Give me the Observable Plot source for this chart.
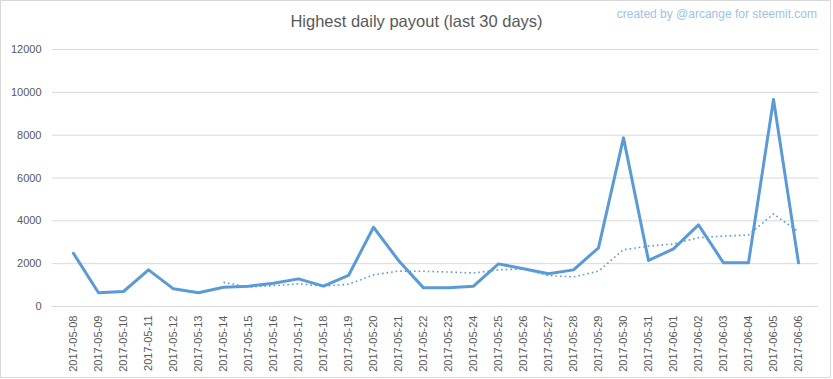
<!DOCTYPE html>
<html>
<head>
<meta charset="utf-8">
<script src="https://cdn.jsdelivr.net/npm/d3@7"></script>
<script src="https://cdn.jsdelivr.net/npm/@observablehq/plot@0.6"></script>
<style>
  html, body { margin: 0; padding: 0; background: #fff; }
  #wrap { position: relative; width: 833px; height: 379px; }
  #frame { position: absolute; left: 0; top: 0; width: 831px; height: 378px; box-sizing: border-box; border: 1px solid #d9d9d9; pointer-events: none; }
  #title { position: absolute; left: 0; width: 833px; top: 12px; text-align: center; font-family: "Liberation Sans", sans-serif; font-size: 16.5px; color: #595959; }
  #credit { position: absolute; right: 16px; top: 7px; font-family: "Liberation Sans", sans-serif; font-size: 12px; color: #9dc3e6; }
  #chart { position: absolute; left: 0; top: 0; }
</style>
</head>
<body>
<div id="wrap">
  <div id="chart"></div>
  <div id="title">Highest daily payout (last 30 days)</div>
  <div id="credit">created by @arcange for steemit.com</div>
  <div id="frame"></div>
</div>
<script>
const dates = ["2017-05-08","2017-05-09","2017-05-10","2017-05-11","2017-05-12","2017-05-13","2017-05-14","2017-05-15","2017-05-16","2017-05-17","2017-05-18","2017-05-19","2017-05-20","2017-05-21","2017-05-22","2017-05-23","2017-05-24","2017-05-25","2017-05-26","2017-05-27","2017-05-28","2017-05-29","2017-05-30","2017-05-31","2017-06-01","2017-06-02","2017-06-03","2017-06-04","2017-06-05","2017-06-06"];
const payout = [2480,640,700,1710,825,640,900,950,1090,1290,950,1450,3700,2150,870,870,950,1990,1760,1525,1710,2740,7875,2150,2690,3810,2040,2040,9665,2040];
// 7-day moving average trendline (dotted), starts at 2017-05-14
const trend = [null,null,null,null,null,null,1128,909,974,1058,949,1039,1476,1654,1643,1611,1563,1711,1756,1445,1382,1649,2650,2821,2921,3214,3288,3335,4324,3491];
const yTicks = [0,2000,4000,6000,8000,10000,12000];

const rows = dates.map((d, i) => ({date: d, payout: payout[i], trend: trend[i]}));

const chart = Plot.plot({
  width: 833,
  height: 379,
  marginTop: 49,
  marginBottom: 73,
  marginLeft: 52,
  marginRight: 15,
  style: {fontFamily: "Liberation Sans, sans-serif", fontSize: "11px", color: "#595959", background: "transparent"},
  x: {type: "point", domain: dates, padding: 0.5, label: null},
  y: {domain: [0, 12000], label: null},
  marks: [
    Plot.gridY(yTicks, {stroke: "#d9d9d9", strokeOpacity: 1, strokeWidth: 1}),
    Plot.axisY({ticks: yTicks, tickSize: 0, tickPadding: 11, tickFormat: d => String(d), fill: "#595959"}),
    Plot.axisX({tickSize: 0, tickRotate: -90, tickPadding: 9, fill: "#595959"}),
    Plot.line(rows.filter(d => d.trend != null), {x: "date", y: "trend", stroke: "#5b9bd5", strokeWidth: 1.6, strokeDasharray: "1.6 3", strokeLinecap: "butt"}),
    Plot.line(rows, {x: "date", y: "payout", stroke: "#5b9bd5", strokeWidth: 3, strokeLinejoin: "round", strokeLinecap: "round"})
  ]
});
document.getElementById("chart").appendChild(chart);
</script>
</body>
</html>
